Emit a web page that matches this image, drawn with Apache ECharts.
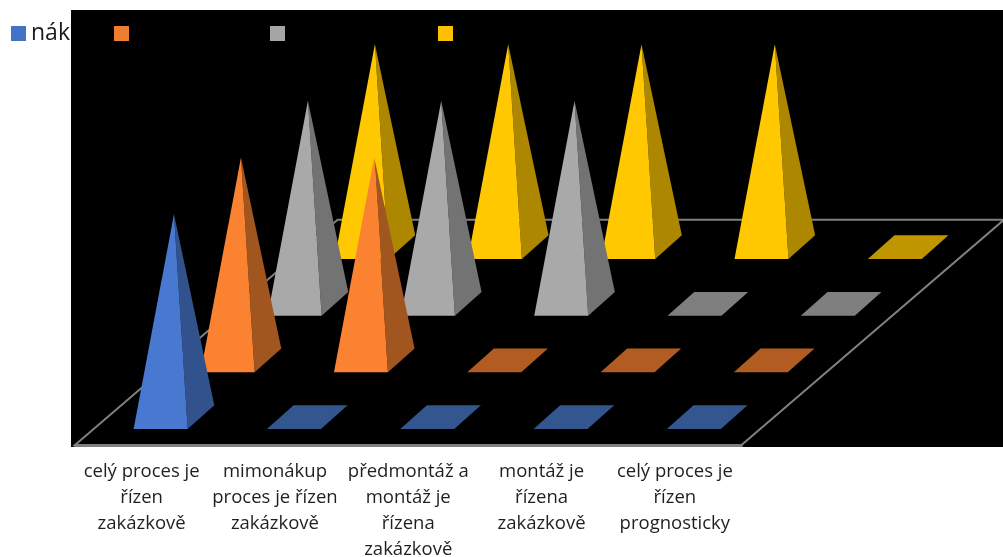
<!DOCTYPE html>
<html><head><meta charset="utf-8">
<style>html,body{margin:0;padding:0;background:#fff}#c{width:1003px;height:557px}</style>
<script src="https://cdn.jsdelivr.net/npm/echarts@6/dist/echarts.min.js"></script>
</head><body><div id="c"></div>
<script>
const categories = ['celý proces je\nřízen\nzakázkově','mimonákup\nproces je řízen\nzakázkově','předmontáž a\nmontáž je\nřízena\nzakázkově','montáž je\nřízena\nzakázkově','celý proces je\nřízen\nprognosticky'];
const seriesNames = ['nák','řada 2','řada 3','řada 4'];
const legendTexts = ['nák','','',''];
const blueValues = [1,0,0,0,0];
const orangeValues = [1,1,0,0,0];
const greyValues = [1,1,1,0,0];
const yellowValues = [1,1,1,1,0];
const allValues = [blueValues,orangeValues,greyValues,yellowValues];
const legendColors = ['#4472c4','#ed7d31','#a5a5a5','#ffc000'];
const frontColors = ['#4878cf','#fa8231','#a9a9a9','#ffc800'];
const sideColors = ['#31528c','#a1561f','#737373','#ae8700'];
const flatColors = ['#34568f','#b35c21','#7f7f7f','#c09600'];
const legendLefts = [11,114,270,438];
const legendTops = [22,26,26,26];

const ROW_DX=0.5025, ROW_DY=0.279, FRONT_DX=-0.06, FRONT_DY=0.079, W=0.405, DX=0.2, DY=0.117;

function pyramid(row){
  return function(params, api){
    const col=api.value(0), h=api.value(1);
    const P=(a,b,z)=>api.coord([col+row*ROW_DX+FRONT_DX+a*W+b*DX, row*ROW_DY+FRONT_DY+b*DY+(z||0)]);
    const poly=(pts,fill)=>({type:'polygon',shape:{points:pts},style:{fill:fill}});
    if(h===0){
      return {type:'group',children:[poly([P(0,0),P(1,0),P(1,1),P(0,1)],flatColors[row])]};
    }
    const apex=P(0.5,0.5,h);
    return {type:'group',children:[
      poly([apex,P(1,0),P(1,1)],sideColors[row]),
      poly([apex,P(0,0),P(1,0)],frontColors[row])
    ]};
  };
}

const floorSeries={
  type:'custom',name:'floor',xAxisIndex:1,yAxisIndex:0,silent:true,z:1,
  data:[[0,0]],
  renderItem(params,api){
    const d=1.97,t=1.11;
    return {type:'polygon',shape:{points:[api.coord([-0.5,0]),api.coord([4.5,0]),api.coord([4.5+d,t]),api.coord([-0.5+d,t])]},
      style:{fill:'none',stroke:'#7f7f7f',lineWidth:2}};
  }
};

const pyramidSeries=[3,2,1,0].map(row=>({
  type:'custom',name:seriesNames[row],xAxisIndex:1,yAxisIndex:0,silent:true,z:10-row,
  itemStyle:{color:legendColors[row]},
  data:allValues[row].map((v,i)=>[i,v]),
  renderItem:pyramid(row)
}));

const chart=echarts.init(document.getElementById('c'),null,{renderer:'canvas'});
chart.setOption({
  animation:false,
  backgroundColor:'#fff',
  graphic:[{type:'rect',z:-10,silent:true,shape:{x:71,y:10,width:932,height:437},style:{fill:'#000'}}],
  legend:seriesNames.map((n,i)=>({
    data:[n],left:legendLefts[i],top:legendTops[i],padding:0,itemWidth:15,itemHeight:15,icon:'rect',selectedMode:false,
    itemStyle:{color:legendColors[i]},
    formatter:()=>legendTexts[i],
    textStyle:{color:'#1a1a1a',fontFamily:'Open Sans',fontSize:23}
  })),
  grid:{left:75,width:666.5,top:39,height:406,containLabel:false,outerBoundsMode:'none'},
  xAxis:[
    {type:'category',data:categories,position:'bottom',z:3,
     axisLine:{show:true,onZero:false,lineStyle:{color:'#7f7f7f',width:3}},axisTick:{show:false},splitLine:{show:false},
     axisLabel:{interval:0,margin:14,color:'#1f1f1f',fontFamily:'Open Sans',fontSize:18.5,lineHeight:26,align:'center',verticalAlign:'top',hideOverlap:false}},
    {type:'value',min:-0.5,max:4.5,show:false,splitLine:{show:false}}
  ],
  yAxis:[{type:'value',min:0,max:2,show:false,splitLine:{show:false}}],
  series:[floorSeries].concat(pyramidSeries)
});
</script></body></html>
